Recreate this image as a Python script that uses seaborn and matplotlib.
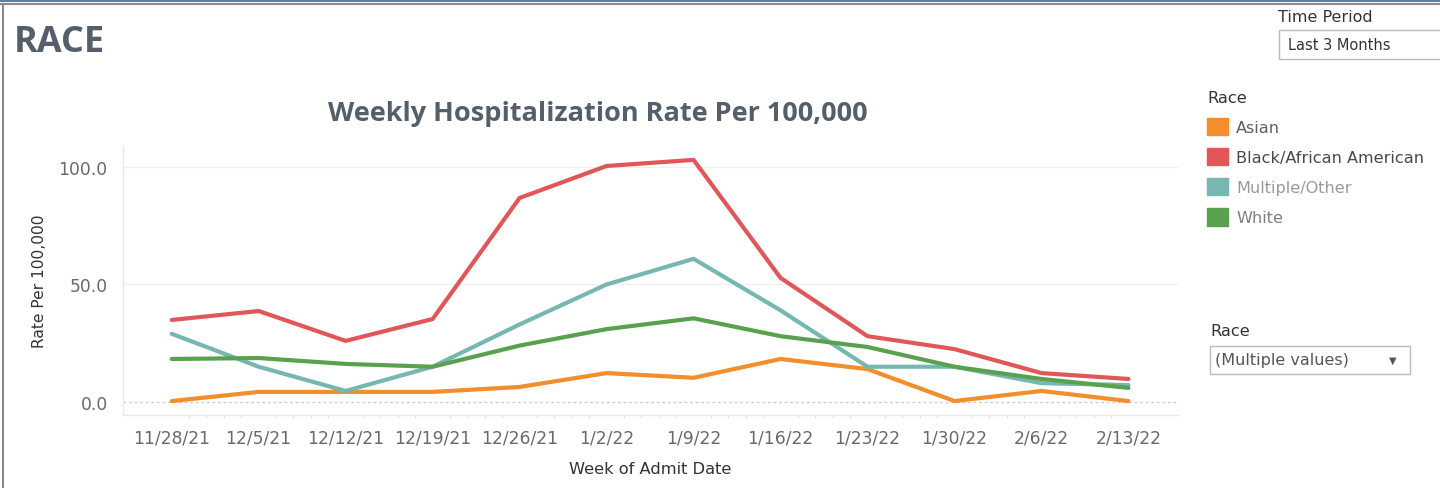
import matplotlib
matplotlib.use("Agg")
import matplotlib.pyplot as plt
import seaborn as sns
import pandas as pd
from matplotlib.patches import Rectangle, Patch
from matplotlib.lines import Line2D

weeks = ["11/28/21", "12/5/21", "12/12/21", "12/19/21", "12/26/21", "1/2/22",
         "1/9/22", "1/16/22", "1/23/22", "1/30/22", "2/6/22", "2/13/22"]
races = ["Asian", "Black/African American", "Multiple/Other", "White"]
asian = [0.4, 4.3, 4.3, 4.3, 6.4, 12.3, 10.3, 18.3, 14.0, 0.4, 4.7, 0.4]
black = [34.9, 38.7, 26.0, 35.3, 86.8, 100.4, 103.0, 52.8, 28.0, 22.5, 12.3, 9.8]
multiple = [29.0, 15.0, 4.7, 15.0, 33.0, 50.0, 60.9, 39.0, 15.0, 15.0, 8.0, 7.2]
white = [18.3, 18.7, 16.2, 15.0, 24.0, 31.0, 35.6, 28.0, 23.4, 15.0, 9.8, 6.0]
yticks = [0.0, 50.0, 100.0]
colors = ["#F28E2B", "#E15759", "#76B7B2", "#59A14F"]
legend_text_colors = ["#56606e", "#444a55", "#9a9a9a", "#808080"]

rows = []
for race, vals in zip(races, [asian, black, multiple, white]):
    for i, v in enumerate(vals):
        rows.append({"idx": i, "Week": weeks[i], "Race": race, "Rate": v})
df = pd.DataFrame(rows)

sns.set_theme(style="white")
plt.rcParams["font.family"] = ["DejaVu Sans"]

W, H = 1440, 489
fig = plt.figure(figsize=(14.4, 4.89), dpi=100)

def fx(px):
    return px / W

def fy(py):
    return 1 - py / H

ax = fig.add_axes([fx(123), fy(416), fx(1178) - fx(123), fy(147) - fy(416)])
sns.lineplot(data=df, x="idx", y="Rate", hue="Race", hue_order=races,
             palette=colors, linewidth=3.0, ax=ax, legend=False, sort=False)

ax.set_xlim(-0.56, 11.57)
ax.set_ylim(-5.53, 108.9)
ax.set_xticks(range(len(weeks)))
ax.set_xticklabels(weeks)
ax.set_xticks([i + f for i in range(len(weeks) - 1) for f in (0.2, 0.4, 0.6, 0.8)], minor=True)
ax.set_yticks(yticks)
ax.set_yticklabels([f"{v:.1f}" for v in yticks])
ax.tick_params(axis="x", which="major", length=4, color="#e0e0e0", labelsize=12.3,
               labelcolor="#666a70", pad=6)
ax.tick_params(axis="x", which="minor", length=2, color="#e6e6e6", bottom=True)
ax.tick_params(axis="y", length=0, labelsize=12.3, labelcolor="#666a70", pad=11)

for v in yticks:
    if v == 0:
        ax.axhline(v, color="#cccccc", linestyle=(0, (2, 2)), linewidth=1, zorder=0)
    else:
        ax.axhline(v, color="#f0f0f0", linewidth=1, zorder=0)

for s in ["top", "right"]:
    ax.spines[s].set_visible(False)
for s in ["left", "bottom"]:
    ax.spines[s].set_color("#e8e8e8")
    ax.spines[s].set_linewidth(1)

ax.set_xlabel("Week of Admit Date", fontsize=11.7, color="#333333", labelpad=10)
ax.set_ylabel("Rate Per 100,000", fontsize=11.2, color="#333333", labelpad=8)

fig.text(fx(598), fy(114), "Weekly Hospitalization Rate Per 100,000", ha="center",
         va="center", fontsize=19.5, fontweight="bold", color="#555f6b",
         family=["Open Sans", "DejaVu Sans"])
fig.text(fx(14), fy(43), "RACE", ha="left", va="center", fontsize=26,
         fontweight="bold", color="#555f6b", family=["Open Sans", "DejaVu Sans"])

# frame
fig.add_artist(Rectangle((0, fy(3)), 1, fy(0) - fy(3), transform=fig.transFigure,
                         color="#5b80a8", lw=0))
fig.add_artist(Line2D([0, 1], [fy(4.5), fy(4.5)], transform=fig.transFigure,
                      color="#8a8a8a", lw=1.5))
fig.add_artist(Line2D([fx(2.5), fx(2.5)], [0, fy(4.5)], transform=fig.transFigure,
                      color="#8a8a8a", lw=1.5))

# Time period control
fig.text(fx(1278), fy(17), "Time Period", ha="left", va="center", fontsize=11.5,
         color="#333333")
fig.add_artist(Rectangle((fx(1279), fy(60)), fx(1445) - fx(1279), fy(31) - fy(60),
                         transform=fig.transFigure, facecolor="white",
                         edgecolor="#bbbbbb", lw=1))
fig.text(fx(1288), fy(45), "Last 3 Months", ha="left", va="center", fontsize=10.5,
         color="#333333")

# legend
handles = [Patch(facecolor=c, edgecolor=c, label=r) for r, c in zip(races, colors)]
leg = fig.legend(handles=handles, title="Race", loc="upper left",
                 bbox_to_anchor=(fx(1207), fy(91)), frameon=False, fontsize=11.6,
                 title_fontsize=11.6, handlelength=1.3, handleheight=1.3,
                 handletextpad=0.5, labelspacing=0.78, borderaxespad=0,
                 borderpad=0)
leg._legend_box.align = "left"
for t, c in zip(leg.get_texts(), legend_text_colors):
    t.set_color(c)
leg.get_title().set_color("#333333")

# Race filter control
fig.text(fx(1210), fy(331), "Race", ha="left", va="center", fontsize=11.6,
         color="#333333")
fig.add_artist(Rectangle((fx(1210), fy(375)), fx(1410) - fx(1210), fy(347) - fy(375),
                         transform=fig.transFigure, facecolor="white",
                         edgecolor="#bbbbbb", lw=1))
fig.text(fx(1215), fy(361), "(Multiple values)", ha="left", va="center", fontsize=11.5,
         color="#555555")
fig.text(fx(1393), fy(361), "▼", ha="center", va="center", fontsize=7,
         color="#555555")

fig.savefig("out.png", dpi=100, facecolor="white")
